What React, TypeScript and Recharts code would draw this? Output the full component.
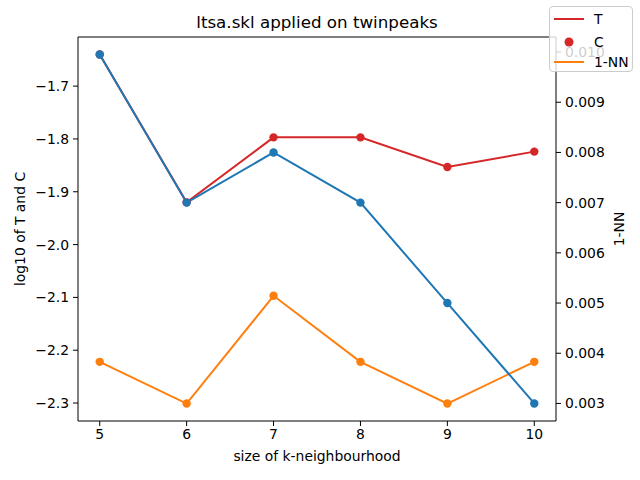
import {
  ComposedChart,
  Line,
  XAxis,
  YAxis,
  ReferenceLine,
} from "recharts";

const kValues = [5, 6, 7, 8, 9, 10];
const tValues = [-1.64, -1.92, -1.797, -1.797, -1.853, -1.824];
const cValues = [-2.222, -2.301, -2.097, -2.222, -2.301, -2.222];
const nnValues = [0.00995, 0.007, 0.008, 0.007, 0.005, 0.003];

const xTicks = [5, 6, 7, 8, 9, 10];
const leftTicks = [-2.3, -2.2, -2.1, -2.0, -1.9, -1.8, -1.7];
const rightTicks = [0.003, 0.004, 0.005, 0.006, 0.007, 0.008, 0.009, 0.01];

const leftDomain = [-2.334, -1.607];
const rightDomain = [0.00265, 0.0103];

const data = kValues.map((k, i) => ({
  k,
  t: tValues[i],
  c: cValues[i],
  nn: nnValues[i],
}));

const RED = "#d62728";
const BLUE = "#1f77b4";
const ORANGE = "#ff7f0e";
const FONT = "'DejaVu Sans', sans-serif";
const tickStyle = { fill: "#000", fontSize: 13.9, fontFamily: FONT };

const fmtLeft = (v: number) => v.toFixed(1).replace("-", "\u2212");
const fmtRight = (v: number) => v.toFixed(3);

const LegendBox = () => (
  <div
    style={{
      position: "absolute",
      left: 549,
      top: 6,
      width: 84,
      height: 66,
      boxSizing: "border-box",
      background: "rgba(255,255,255,0.8)",
      border: "1px solid #cccccc",
      borderRadius: 4,
      fontFamily: FONT,
      fontSize: 13.9,
      color: "#000",
    }}
  >
    <svg width={84} height={66} style={{ position: "absolute", left: 0, top: 0 }}>
      <line x1={4} x2={34} y1={12} y2={12} stroke={RED} strokeWidth={2} />
      <circle cx={19} cy={35} r={4.5} fill={RED} />
      <line x1={4} x2={34} y1={55} y2={55} stroke={ORANGE} strokeWidth={2} />
      <text x={44} y={17} fontSize={13.9} fontFamily={FONT}>T</text>
      <text x={44} y={40} fontSize={13.9} fontFamily={FONT}>C</text>
      <text x={44} y={60} fontSize={13.9} fontFamily={FONT}>1-NN</text>
    </svg>
  </div>
);

export default function App() {
  return (
    <div style={{ position: "relative", width: 640, height: 480, background: "#fff" }}>
      <style>{`body{margin:0}`}</style>
      <div
        style={{
          position: "absolute",
          left: 78,
          width: 478,
          top: 12,
          textAlign: "center",
          fontFamily: FONT,
          fontSize: 16.7,
          color: "#000",
        }}
      >
        ltsa.skl applied on twinpeaks
      </div>
      <ComposedChart
        width={640}
        height={480}
        data={data}
        margin={{ top: 37, right: 0, bottom: 0, left: 0 }}
      >
        <XAxis
          dataKey="k"
          type="number"
          domain={[4.75, 10.25]}
          ticks={xTicks}
          allowDataOverflow
          height={59}
          tickSize={5}
          tickMargin={3}
          tick={tickStyle}
          stroke="#000"
          tickLine={{ stroke: "#000" }}
          label={{
            value: "size of k-neighbourhood",
            position: "insideBottom",
            offset: 19,
            style: { fill: "#000", fontSize: 13.9, fontFamily: FONT },
          }}
        />
        <YAxis
          yAxisId="left"
          type="number"
          domain={leftDomain}
          ticks={leftTicks}
          allowDataOverflow
          width={78}
          tickSize={5}
          tickMargin={4}
          tickFormatter={fmtLeft}
          tick={tickStyle}
          stroke="#000"
          tickLine={{ stroke: "#000" }}
          label={{
            value: "log10 of T and C",
            angle: -90,
            position: "insideLeft",
            offset: 20,
            style: { fill: "#000", fontSize: 13.9, fontFamily: FONT, textAnchor: "middle" },
          }}
        />
        <YAxis
          yAxisId="right"
          orientation="right"
          type="number"
          domain={rightDomain}
          ticks={rightTicks}
          allowDataOverflow
          width={84}
          tickSize={5}
          tickMargin={4}
          tickFormatter={fmtRight}
          tick={tickStyle}
          stroke="#000"
          tickLine={{ stroke: "#000" }}
          label={{
            value: "1-NN",
            angle: -90,
            position: "insideLeft",
            offset: 63,
            style: { fill: "#000", fontSize: 13.9, fontFamily: FONT, textAnchor: "middle" },
          }}
        />
        <ReferenceLine yAxisId="left" y={leftDomain[1]} stroke="#000" strokeWidth={1} />
        <Line
          yAxisId="left"
          dataKey="t"
          type="linear"
          stroke={RED}
          strokeWidth={2}
          dot={{ r: 4.2, fill: RED, stroke: RED, strokeWidth: 0 }}
          isAnimationActive={false}
        />
        <Line
          yAxisId="left"
          dataKey="c"
          type="linear"
          stroke={ORANGE}
          strokeWidth={2}
          dot={{ r: 4.2, fill: ORANGE, stroke: ORANGE, strokeWidth: 0 }}
          isAnimationActive={false}
        />
        <Line
          yAxisId="right"
          dataKey="nn"
          type="linear"
          stroke={BLUE}
          strokeWidth={2}
          dot={{ r: 4.2, fill: BLUE, stroke: BLUE, strokeWidth: 0 }}
          isAnimationActive={false}
        />
      </ComposedChart>
      <LegendBox />
    </div>
  );
}
